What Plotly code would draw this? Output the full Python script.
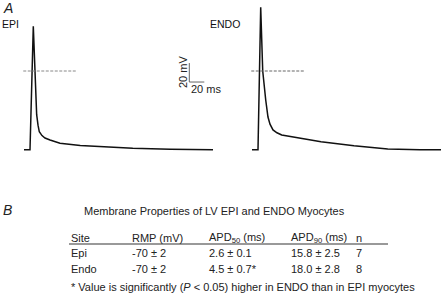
import plotly.graph_objects as go

W, H = 442, 295

# ---- Panel A data (time in ms from upstroke, voltage in mV) ----
epi_t = [-8, 0, 4.4, 6.7, 8.9, 10.7, 12.4, 16, 20, 26.7, 40, 67, 93, 137, 187, 244]
epi_v = [-83, -83, 47, -1, -46, -57, -64, -68, -70.5, -72.6, -76, -78.5, -79.5, -81.4, -82.4, -83]
endo_t = [-8, 0, 3.6, 6.3, 10.3, 13.3, 16, 20, 25.3, 31.6, 62.7, 84, 128, 173, 216, 244]
endo_v = [-83, -83, 67, 0, -30.5, -48.4, -56, -62, -65, -67.4, -71.6, -74.4, -78.6, -82, -83, -83]
zero_t = [-9, 63]
zero_v = [0, 0]
bar_t = [212.4, 212.4, 232.4]
bar_v = [8.4, -11.6, -11.6]

# ---- Panel B table ----
title_b = "Membrane Properties of LV EPI and ENDO Myocytes"
headers = ["Site", "RMP (mV)", "APD<sub>50</sub> (ms)", "APD<sub>90</sub> (ms)", "n"]
sites = ["Epi", "Endo"]
rmp = ["-70 ± 2", "-70 ± 2"]
apd50 = ["2.6 ± 0.1", "4.5 ± 0.7*"]
apd90 = ["15.8 ± 2.5", "18.0 ± 2.8"]
n_cells = ["7", "8"]
footnote = "* Value is significantly (<i>P</i> &lt; 0.05) higher in ENDO than in EPI myocytes"

def px(x):
    return x / W

def py(y):
    return 1 - y / H

fig = go.Figure()
trace_col = "#111111"
fig.add_trace(go.Scatter(x=epi_t, y=epi_v, mode="lines", line=dict(color=trace_col, width=1.5),
                         xaxis="x", yaxis="y", showlegend=False, hoverinfo="skip"))
fig.add_trace(go.Scatter(x=zero_t, y=zero_v, mode="lines", line=dict(color="#888888", width=1, dash="3px,1.5px"),
                         xaxis="x", yaxis="y", showlegend=False, hoverinfo="skip"))
fig.add_trace(go.Scatter(x=bar_t, y=bar_v, mode="lines", line=dict(color="#666666", width=1),
                         xaxis="x", yaxis="y", showlegend=False, hoverinfo="skip"))
fig.add_trace(go.Scatter(x=endo_t, y=endo_v, mode="lines", line=dict(color=trace_col, width=1.5),
                         xaxis="x2", yaxis="y", showlegend=False, hoverinfo="skip"))
fig.add_trace(go.Scatter(x=zero_t, y=zero_v, mode="lines", line=dict(color="#666666", width=1, dash="3px,1.5px"),
                         xaxis="x2", yaxis="y", showlegend=False, hoverinfo="skip"))

ax_common = dict(visible=False, showgrid=False, zeroline=False, fixedrange=True)
fig.update_layout(
    width=W, height=H,
    margin=dict(l=0, r=0, t=0, b=0),
    paper_bgcolor="white", plot_bgcolor="white",
    font=dict(family="Liberation Sans, Arial, sans-serif", color="#222222", size=11),
    xaxis=dict(domain=[0, 0.5], range=[-40, 254.67], **ax_common),
    xaxis2=dict(domain=[0.5, 1], range=[-49.33, 245.33], **ax_common),
    yaxis=dict(domain=[1 - 160 / H, 1], range=[-93.68, 74.74], **ax_common),
    showlegend=False,
)

ann = []
def text(x, y, s, size=11, xanchor="left", color="#222222", **kw):
    ann.append(dict(x=px(x), y=py(y), xref="paper", yref="paper", text=s, showarrow=False,
                    xanchor=xanchor, yanchor="middle", font=dict(size=size, color=color), **kw))

text(1, 8, "<i>A</i>", size=14)
text(0, 24, "EPI", size=10.5, color="#111111")
text(208, 24, "ENDO", size=10.5, color="#111111")
ann.append(dict(x=212.4 - 9, y=-1.6, xref="x", yref="y", text="20 mV", showarrow=False, textangle=-90,
                xanchor="center", yanchor="middle", font=dict(size=11, color="#222222")))
ann.append(dict(x=212.4, y=-11.6 - 7.5, xref="x", yref="y", text="20 ms", showarrow=False,
                xanchor="left", yanchor="middle", font=dict(size=11, color="#222222")))

text(1, 210, "<i>B</i>", size=14)
text(214, 211, title_b, xanchor="center")
col_x = [69, 130, 207, 289, 354]
for cx, h in zip(col_x, headers):
    text(cx, 237.5, h)
row_y = [252.5, 269]
for i, ry in enumerate(row_y):
    for cx, val in zip(col_x, [sites[i], rmp[i], apd50[i], apd90[i], n_cells[i]]):
        text(cx, ry, val)
text(69, 287, footnote)
fig.update_layout(annotations=ann)

fig.add_shape(type="line", xref="paper", yref="paper", x0=px(69), x1=px(388), y0=py(244), y1=py(244),
              line=dict(color="#777777", width=1.5))

fig.write_html("out.html", config={"displayModeBar": False},
               post_script="document.body.style.margin='0';document.body.style.overflow='hidden';")
